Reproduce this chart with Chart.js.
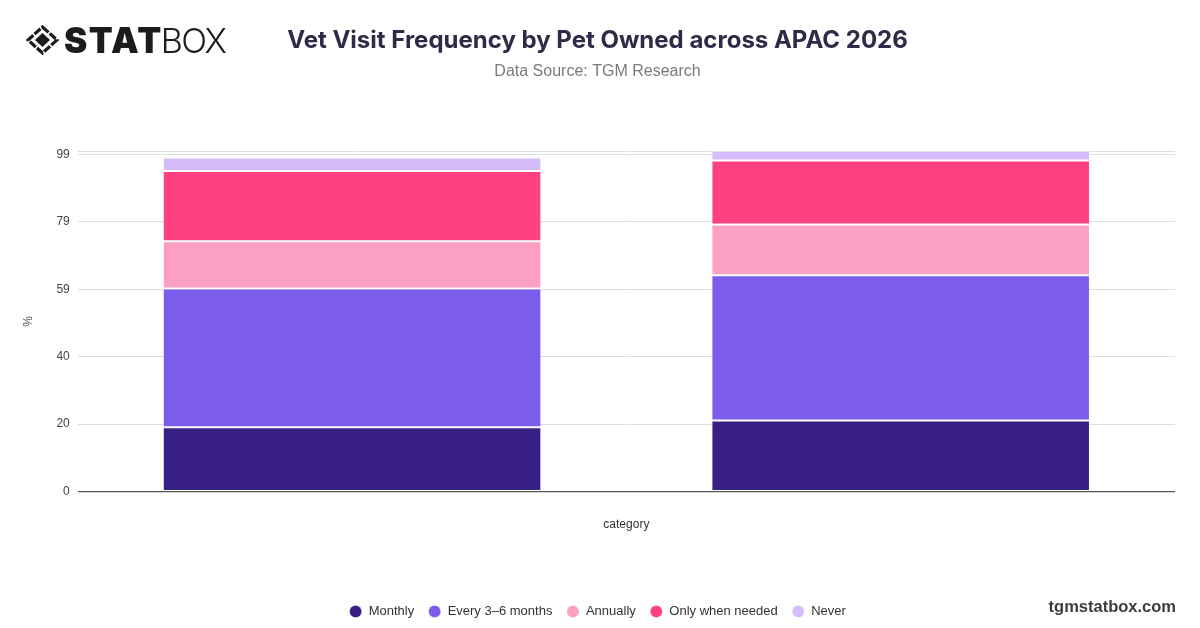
<!DOCTYPE html>
<html>
<head>
<meta charset="utf-8">
<script src="https://cdn.jsdelivr.net/npm/chart.js@4/dist/chart.umd.min.js"></script>
<style>
  html, body { margin: 0; padding: 0; background: #fff; }
  #wrap { position: relative; width: 1200px; height: 628px; overflow: hidden; }
  #chart { position: absolute; left: 0; top: 0; }
  .logo { position: absolute; left: 26px; top: 22px; display: flex; align-items: center; height: 36px; }
  .logo svg { margin-right: 5px; }
  .logo .stat { font-family: Inter, sans-serif; font-weight: 900; font-size: 35px; color: #1c1c1c; letter-spacing: 1.5px; }
  .logo .box { font-family: Inter, sans-serif; font-weight: 300; font-size: 34px; color: #1c1c1c; letter-spacing: -1.6px; margin-left: -2px; }
  .site { position: absolute; right: 24px; top: 597px; font-family: "Liberation Sans", Arial, sans-serif; font-weight: bold; font-size: 16.5px; color: #3c3c3c; }
</style>
</head>
<body>
<div id="wrap">
  <canvas id="chart" width="1200" height="628"></canvas>
  <div class="logo">
    <svg width="33" height="30" viewBox="0 0 33 30">
      <path d="M16.5 2 L31 15 L16.5 28 L2 15 Z" fill="none" stroke="#1c1c1c" stroke-width="3.2" stroke-dasharray="8 1.6"/>
      <path d="M16.5 8 L24 15 L16.5 22 L9 15 Z" fill="#1c1c1c"/>
    </svg>
    <span class="stat">STAT</span><span class="box">BOX</span>
  </div>
  <div class="site">tgmstatbox.com</div>
</div>
<script>
// values, in %
var categories = ['', ''];
var seriesNames = ['Monthly', 'Every 3–6 months', 'Annually', 'Only when needed', 'Never'];
var seriesColors = ['#371f86', '#7b5ceb', '#fba0c3', '#ff4081', '#d6bbfb'];
var monthly = [18.9, 20.9];
var every3to6 = [40.7, 42.6];
var annually = [13.9, 14.9];
var onlyWhenNeeded = [20.6, 18.8];
var never = [4.0, 2.8];
var yTicks = [0, 19.8, 39.6, 59.4, 79.2, 99, 100];

var seriesValues = [monthly, every3to6, annually, onlyWhenNeeded, never];

var datasets = seriesNames.map(function (name, i) {
  return {
    label: name,
    data: seriesValues[i],
    backgroundColor: seriesColors[i],
    borderColor: 'rgba(255,255,255,0.15)',
    borderWidth: 1,
    borderSkipped: false,
    categoryPercentage: 0.69,
    barPercentage: 1
  };
});

new Chart(document.getElementById('chart'), {
  type: 'bar',
  data: { labels: categories, datasets: datasets },
  options: {
    responsive: false,
    animation: false,
    layout: { padding: { top: 16, left: 20, right: 25, bottom: 0 } },
    plugins: {
      title: {
        display: true,
        text: 'Vet Visit Frequency by Pet Owned across APAC 2026',
        color: '#2e2b48',
        font: { family: 'Inter', size: 24, weight: 'bold' },
        padding: { top: 10, bottom: 6 }
      },
      subtitle: {
        display: true,
        text: 'Data Source: TGM Research',
        color: '#7a7a7a',
        font: { family: "'Liberation Sans', Arial, sans-serif", size: 16 },
        padding: { top: 1, bottom: 70 }
      },
      legend: {
        position: 'bottom',
        labels: {
          usePointStyle: true,
          pointStyle: 'circle',
          boxWidth: 13,
          boxHeight: 8.5,
          padding: 14,
          color: '#333',
          font: { family: "'Liberation Sans', Arial, sans-serif", size: 13 }
        }
      },
      tooltip: { enabled: false }
    },
    scales: {
      x: {
        stacked: true,
        grid: { display: false, drawTicks: false },
        border: { display: false },
        ticks: { display: false },
        title: {
          display: true,
          text: 'category',
          color: '#333',
          font: { family: "'Liberation Sans', Arial, sans-serif", size: 12 },
          padding: { top: 26, bottom: 59 }
        }
      },
      y: {
        stacked: true,
        min: 0,
        max: 100,
        afterBuildTicks: function (axis) {
          axis.ticks = yTicks.map(function (v) { return { value: v }; });
        },
        ticks: {
          padding: 8,
          color: '#444',
          font: { family: "'Liberation Sans', Arial, sans-serif", size: 12 },
          callback: function (v) { return v === 100 ? '' : Math.round(v); }
        },
        grid: {
          drawTicks: false,
          color: function (ctx) { return ctx.tick && ctx.tick.value === 0 ? '#555' : '#dedede'; },
          lineWidth: function (ctx) { return ctx.tick && ctx.tick.value === 0 ? 1.2 : 1; }
        },
        border: { display: false },
        title: {
          display: true,
          text: '%',
          color: '#555',
          font: { family: "'Liberation Sans', Arial, sans-serif", size: 12 },
          padding: { top: 1, bottom: 13 }
        }
      }
    }
  }
});
</script>
</body>
</html>
